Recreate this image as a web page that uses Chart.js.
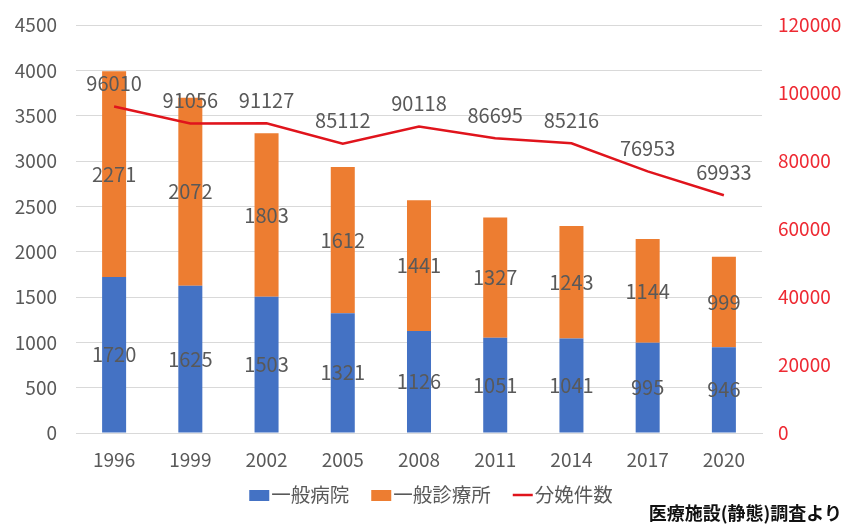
<!DOCTYPE html>
<html lang="ja">
<head>
<meta charset="utf-8">
<script src="https://cdn.jsdelivr.net/npm/chart.js@4/dist/chart.umd.min.js"></script>
<style>
  html, body { margin: 0; padding: 0; background: #fff; }
  #wrap { position: relative; width: 851px; height: 525px; }
  #note {
    position: absolute; right: 9px; bottom: 0;
    font: bold 18px/26px "Noto Sans CJK JP", sans-serif; color: #111;
  }
</style>
</head>
<body>
<div id="wrap">
  <canvas id="birthChart" width="851" height="525"></canvas>
  <div id="note">医療施設(静態)調査より</div>
</div>
<script>
var years = ['1996', '1999', '2002', '2005', '2008', '2011', '2014', '2017', '2020'];
var hospitals = [1720, 1625, 1503, 1321, 1126, 1051, 1041, 995, 946];
var clinics = [2271, 2072, 1803, 1612, 1441, 1327, 1243, 1144, 999];
var births = [96010, 91056, 91127, 85112, 90118, 86695, 85216, 76953, 69933];

var FONT = '"Noto Sans CJK JP", "Noto Sans", sans-serif';
var LABEL_GRAY = '#595959';

// value labels: centred inside bar segments, above the line points
var valueLabels = {
    id: 'valueLabels',
    afterDatasetsDraw: function(chart) {
        var ctx = chart.ctx;
        ctx.save();
        ctx.font = '20px ' + FONT;
        ctx.fillStyle = LABEL_GRAY;
        ctx.textAlign = 'center';
        ctx.textBaseline = 'middle';
        chart.data.datasets.forEach(function(ds, i) {
            var meta = chart.getDatasetMeta(i);
            meta.data.forEach(function(el, j) {
                var y = ds.type === 'line' ? el.y - 23 : (el.y + el.base) / 2;
                ctx.fillText(String(ds.data[j]), el.x, y);
            });
        });
        ctx.restore();
    }
};

// legend row under the axis: small swatch tight against its text
var tightLegend = {
    id: 'tightLegend',
    afterDraw: function(chart) {
        var ctx = chart.ctx;
        var sw = 20, gap = 2, between = 22;
        var y = 495;
        ctx.save();
        ctx.font = '19.5px ' + FONT;
        ctx.textBaseline = 'middle';
        var items = chart.data.datasets.map(function(ds) {
            return { ds: ds, w: sw + gap + ctx.measureText(ds.label).width };
        });
        var total = items.reduce(function(s, it) { return s + it.w; }, 0) + between * (items.length - 1);
        var x = 431 - total / 2;
        items.forEach(function(it) {
            var ds = it.ds;
            if (ds.type === 'line') {
                ctx.strokeStyle = ds.borderColor;
                ctx.lineWidth = ds.borderWidth;
                ctx.beginPath();
                ctx.moveTo(x, y);
                ctx.lineTo(x + sw, y);
                ctx.stroke();
            } else {
                ctx.fillStyle = ds.backgroundColor;
                ctx.fillRect(x, y - 5, sw, 11);
            }
            ctx.fillStyle = LABEL_GRAY;
            ctx.fillText(ds.label, x + sw + gap, y);
            x += it.w + between;
        });
        ctx.restore();
    }
};

function plain(v) { return String(v); }

// fixed axis width; keep tick padding out of the top/bottom inset
function fitSide(width) {
    return function(s) {
        s.width = width;
        s.paddingTop = 12;
        s.paddingBottom = 12;
    };
}

var ctx = document.getElementById('birthChart').getContext('2d');
var birthChart = new Chart(ctx, {
    data: {
        labels: years,
        datasets: [{
            type: 'bar',
            label: '一般病院',
            data: hospitals,
            backgroundColor: '#4472C4',
            order: 1
        }, {
            type: 'bar',
            label: '一般診療所',
            data: clinics,
            backgroundColor: '#ED7D31',
            order: 2
        }, {
            type: 'line',
            label: '分娩件数',
            data: births,
            yAxisID: 'y1',
            borderColor: '#E0141C',
            backgroundColor: '#E0141C',
            borderWidth: 2.5,
            pointRadius: 0,
            tension: 0,
            order: 0
        }]
    },
    options: {
        responsive: false,
        animation: false,
        layout: { padding: { top: 25, bottom: 50, left: 0, right: 0 } },
        datasets: {
            bar: { categoryPercentage: 1, barPercentage: 0.315 }
        },
        scales: {
            x: {
                stacked: true,
                grid: { display: false, drawTicks: false },
                border: { color: '#d9d9d9' },
                ticks: { color: LABEL_GRAY, padding: 15, font: { family: FONT, size: 19 } },
                afterFit: function(s) { s.height = 42; }
            },
            y: {
                stacked: true,
                min: 0,
                max: 4500,
                ticks: { stepSize: 500, color: LABEL_GRAY, padding: 19, callback: plain, font: { family: FONT, size: 19 } },
                grid: { color: '#d9d9d9', drawTicks: false },
                border: { display: false },
                afterFit: fitSide(76)
            },
            y1: {
                position: 'right',
                min: 0,
                max: 120000,
                ticks: { stepSize: 20000, color: '#EE2A33', padding: 16, callback: plain, font: { family: FONT, size: 19 } },
                grid: { display: false, drawTicks: false },
                border: { display: false },
                afterFit: fitSide(89)
            }
        },
        plugins: {
            legend: { display: false },
            tooltip: { enabled: false }
        }
    },
    plugins: [valueLabels, tightLegend]
});
</script>
</body>
</html>
